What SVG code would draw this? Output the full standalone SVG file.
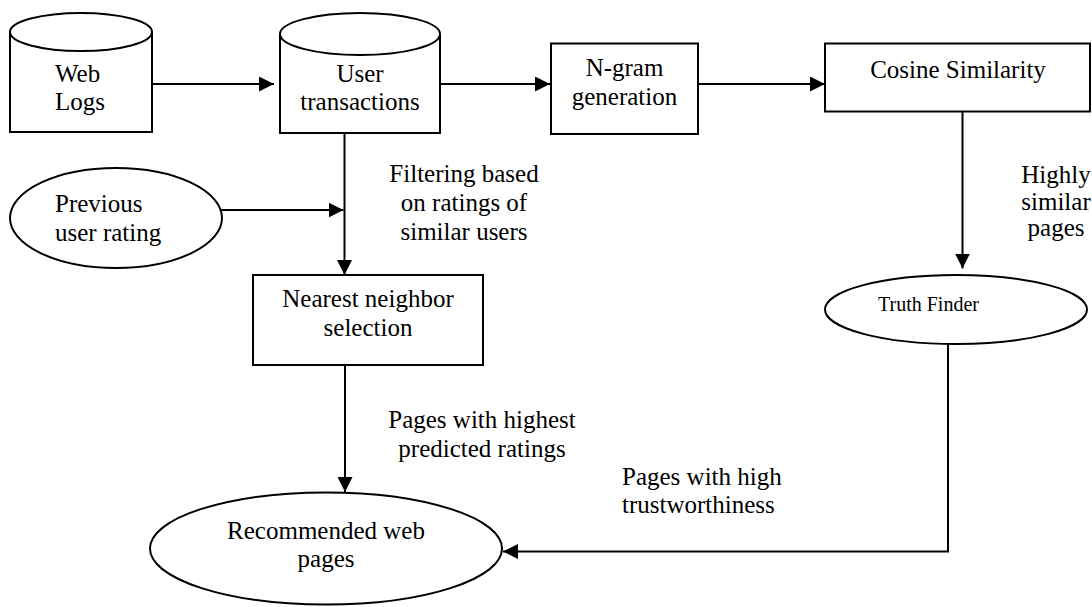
<svg xmlns="http://www.w3.org/2000/svg" width="1092" height="607" viewBox="0 0 1092 607">
<style>
.s{fill:#fff;stroke:#000;stroke-width:2}
.c{fill:none;stroke:#000;stroke-width:2}
text{font-family:"Liberation Serif","Times New Roman",serif;font-size:25px;fill:#000}
.m{text-anchor:middle}
</style>
<defs>
<marker id="ah" markerUnits="userSpaceOnUse" markerWidth="15" markerHeight="15" refX="15" refY="7.5" orient="auto">
<path d="M0,0 L15,7.5 L0,15 z" fill="#000"/>
</marker>
</defs>
<rect width="1092" height="607" fill="#fff"/>
<g id="connectors">
<path class="c" d="M152,84 H274" marker-end="url(#ah)"/>
<path class="c" d="M440,84 H550" marker-end="url(#ah)"/>
<path class="c" d="M698,84 H825" marker-end="url(#ah)"/>
<path class="c" d="M344.5,133 V275" marker-end="url(#ah)"/>
<path class="c" d="M221,210 H343.5" marker-end="url(#ah)"/>
<path class="c" d="M345,365 V492" marker-end="url(#ah)"/>
<path class="c" d="M962.5,112 V268.5" marker-end="url(#ah)"/>
<path class="c" d="M948,344 V551.5 H503" marker-end="url(#ah)"/>
</g>
<g id="web-logs">
<path class="s" d="M10,32 V132 H152 V32"/>
<ellipse class="s" cx="81" cy="32" rx="71" ry="19"/>
<text x="55" y="81.5">Web</text>
<text x="55" y="110">Logs</text>
</g>
<g id="user-transactions">
<path class="s" d="M280,34 V133 H440 V34"/>
<ellipse class="s" cx="360" cy="34" rx="80" ry="21"/>
<text class="m" x="360" y="81.5">User</text>
<text class="m" x="360" y="110">transactions</text>
</g>
<g id="ngram">
<rect class="s" x="551" y="43.5" width="147" height="90.5"/>
<text class="m" x="624.5" y="76">N-gram</text>
<text class="m" x="624.5" y="104.5">generation</text>
</g>
<g id="cosine">
<rect class="s" x="825" y="43.5" width="265" height="68"/>
<text class="m" x="958" y="77.5">Cosine Similarity</text>
</g>
<g id="previous-rating">
<ellipse class="s" cx="116" cy="218" rx="106" ry="50"/>
<text x="55" y="212">Previous</text>
<text x="55" y="240.5">user rating</text>
</g>
<g id="label-filtering">
<text class="m" x="464" y="182">Filtering based</text>
<text class="m" x="464" y="211">on ratings of</text>
<text class="m" x="464" y="240">similar users</text>
</g>
<g id="nearest-neighbor">
<rect class="s" x="253" y="275" width="230" height="90"/>
<text class="m" x="368" y="306.5">Nearest neighbor</text>
<text class="m" x="368" y="336">selection</text>
</g>
<g id="label-highly">
<text class="m" x="1056" y="183">Highly</text>
<text class="m" x="1056" y="210">similar</text>
<text class="m" x="1056" y="236">pages</text>
</g>
<g id="truth-finder">
<ellipse class="s" cx="956" cy="309.5" rx="131" ry="34.5"/>
<text x="878" y="311" style="font-size:20px">Truth Finder</text>
</g>
<g id="label-highest">
<text class="m" x="482" y="428">Pages with highest</text>
<text class="m" x="482" y="457">predicted ratings</text>
</g>
<g id="label-trust">
<text x="622" y="485">Pages with high</text>
<text x="622" y="513">trustworthiness</text>
</g>
<g id="recommended">
<ellipse class="s" cx="326" cy="548.5" rx="176" ry="56"/>
<text class="m" x="326" y="539">Recommended web</text>
<text class="m" x="326" y="567">pages</text>
</g>
</svg>
